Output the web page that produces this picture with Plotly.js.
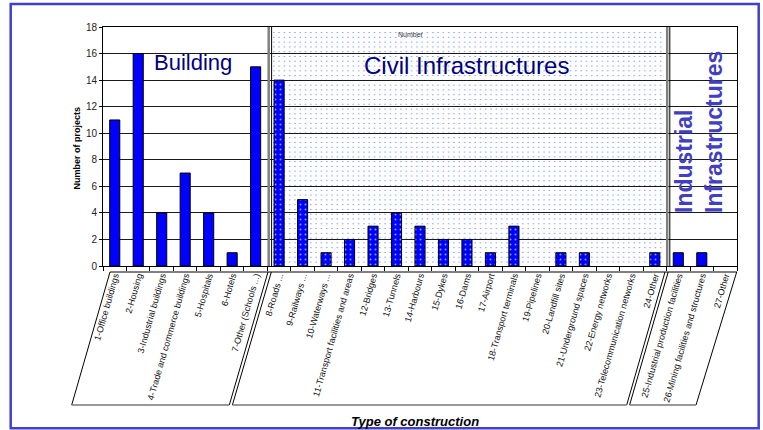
<!DOCTYPE html>
<html>
<head>
<meta charset="utf-8">
<script src="https://cdn.plot.ly/plotly-3.0.1.min.js"></script>
<style>html,body{margin:0;padding:0;background:#fff;}#chart{width:763px;height:430px;}</style>
</head>
<body>
<div id="chart"></div>
<script>
// ---- data ----
const categories = [
  "1-Office buildings", "2-Housing", "3-Industrial buildings", "4-Trade and commerce buildings",
  "5-Hospitals", "6-Hotels", "7-Other (Schools ...)",
  "8-Roads ...", "9-Railways ...", "10-Waterways ...", "11-Transport facilities and areas",
  "12-Bridges", "13-Tunnels", "14-Harbours", "15-Dykes", "16-Dams", "17-Airport",
  "18-Transport terminals", "19-Pipelines", "20-Landfill sites", "21-Underground spaces",
  "22-Energy networks", "23-Telecommunication networks", "24-Other",
  "25-Industrial production facilities", "26-Mining facilities and structures", "27-Other"
];
const projects = [11, 16, 4, 7, 4, 1, 15, 14, 5, 1, 2, 3, 4, 3, 2, 2, 1, 3, 0, 1, 1, 0, 0, 1, 1, 1, 0];
const groups = ["B","B","B","B","B","B","B",
  "C","C","C","C","C","C","C","C","C","C","C","C","C","C","C","C","C",
  "I","I","I"];
const groupTitles = {B: "Building", C: "Civil Infrastructures", I: "Industrial<br>Infrastructures"};
const yTitle = "Number of projects";
const xTitle = "Type of construction";
const seriesName = "Number";

// ---- layout helpers (pixel -> paper) ----
const L = 103, R = 737, T = 27, B = 266;
const px = x => (x - L) / (R - L);
const py = y => (B - y) / (B - T);
const FONT = "Liberation Sans, Arial, sans-serif";

const shapes = [];
// dotted background of civil section
for (let k = 1; k < 50; k++) {
  const y = 27.8 + 4.78 * k;
  if (y > 264) break;
  shapes.push({type: "line", xref: "paper", yref: "paper", layer: "below",
    x0: px(273), x1: px(665), y0: py(y), y1: py(y),
    line: {color: "#8aa6ff", width: 1, dash: "1.6px,3.7px"}});
}
// section dividers in plot
function vline(x, color, w) {
  shapes.push({type: "line", xref: "paper", yref: "paper", layer: "above",
    x0: px(x), x1: px(x), y0: 0, y1: 1, line: {color: color, width: w}});
}
vline(268.7, "#808080", 2.5); vline(271.6, "#000", 1);
vline(667.2, "#808080", 2.5); vline(669.8, "#000", 1);
// label boxes (slanted)
function seg(x0, y0, x1, y1, color, w) {
  shapes.push({type: "line", xref: "paper", yref: "paper", layer: "above",
    x0: px(x0), x1: px(x1), y0: py(y0), y1: py(y1), line: {color: color, width: w}});
}
seg(110, 272, 737, 272, "#000", 1);
seg(110, 272, 71.7, 405, "#000", 1);
seg(268, 272, 229.3, 405, "#000", 1);
seg(271.3, 272, 232.4, 405, "#000", 1);
seg(665, 272, 626.7, 405, "#000", 1);
seg(668.2, 272, 629.6, 405, "#000", 1);
seg(736.7, 272, 696, 405, "#000", 1);
seg(71.7, 405, 229.3, 405, "#777", 1.6);
seg(232.4, 405, 626.7, 405, "#777", 1.6);
seg(629.6, 405, 696, 405, "#777", 1.6);
// outer frame
shapes.push({type: "rect", xref: "paper", yref: "paper", layer: "above",
  x0: px(10.7), x1: px(758.7), y0: py(4), y1: py(428.3),
  line: {color: "#4040cc", width: 2.5}});

const annotations = [
  {text: groupTitles.B, x: px(192.5), y: py(63), xref: "paper", yref: "paper",
   showarrow: false, xanchor: "center", yanchor: "middle",
   font: {family: FONT, size: 22, color: "#000080"}},
  {text: groupTitles.C, x: px(466.5), y: py(65), xref: "paper", yref: "paper",
   showarrow: false, xanchor: "center", yanchor: "middle",
   font: {family: FONT, size: 24, color: "#000080"}},
  {text: "<b>" + groupTitles.I + "</b>", x: px(699), y: py(132), xref: "paper", yref: "paper",
   showarrow: false, xanchor: "center", yanchor: "middle", textangle: -90, align: "left",
   font: {family: FONT, size: 23, color: "#4040c0"}},
  {text: seriesName, x: px(411), y: py(35), xref: "paper", yref: "paper",
   showarrow: false, xanchor: "center", yanchor: "middle",
   font: {family: FONT, size: 7, color: "#333"}},
  {text: "<b>" + yTitle + "</b>", x: px(76), y: py(148.5), xref: "paper", yref: "paper",
   showarrow: false, xanchor: "center", yanchor: "middle", textangle: -90,
   font: {family: FONT, size: 9, color: "#000"}},
  {text: "<b><i>" + xTitle + "</i></b>", x: px(415), y: py(421), xref: "paper", yref: "paper",
   showarrow: false, xanchor: "center", yanchor: "middle",
   font: {family: FONT, size: 13, color: "#000"}}
];

const trace = {
  type: "bar", x: categories, y: projects, name: seriesName, width: 0.43,
  marker: {
    color: "#0000ff",
    line: {color: "#000", width: projects.map(v => v > 0 ? 1 : 0)},
    pattern: {
      shape: groups.map(g => g === "C" ? "." : ""),
      fgcolor: "#7f9fff", bgcolor: "#0000ff", size: 5, solidity: 0.12
    }
  },
  hoverinfo: "x+y"
};

const layout = {
  width: 763, height: 430,
  margin: {l: L, r: 763 - R, t: T, b: 430 - B, pad: 0},
  paper_bgcolor: "#fff", plot_bgcolor: "#fff",
  showlegend: false, bargap: 0.57,
  font: {family: FONT, size: 9, color: "#000"},
  xaxis: {
    type: "category", range: [-0.5, 26.5], autorange: false,
    tickangle: -74, tickson: "boundaries", ticks: "outside", ticklen: 4,
    tickcolor: "#000", showline: true, linecolor: "#000", linewidth: 1, mirror: true,
    showgrid: false, automargin: false,
    tickfont: {family: FONT, size: 9, color: "#111"}
  },
  yaxis: {
    range: [0, 18], autorange: false, dtick: 2, tick0: 0,
    ticks: "outside", ticklen: 3, tickcolor: "#000",
    showline: true, linecolor: "#000", linewidth: 1, mirror: true,
    showgrid: true, gridcolor: "#1a1a1a", gridwidth: 1, zeroline: false, automargin: false,
    tickfont: {family: FONT, size: 10, color: "#222"}
  },
  shapes: shapes,
  annotations: annotations
};

Plotly.newPlot("chart", [trace], layout, {displayModeBar: false, staticPlot: true});
</script>
</body>
</html>
